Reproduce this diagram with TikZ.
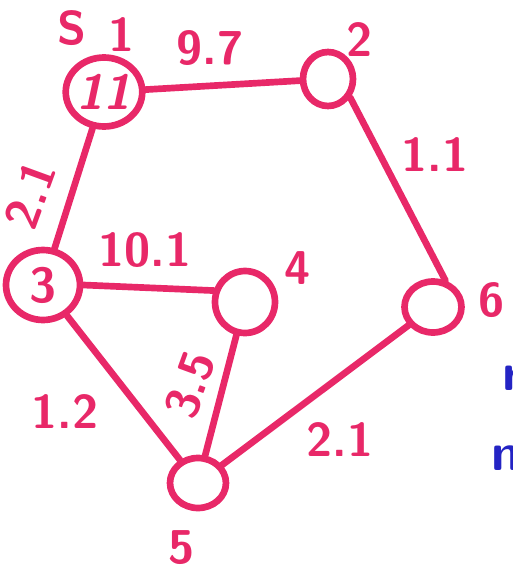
\documentclass[tikz,border=0pt]{standalone}
\usepackage{xcolor}
\usetikzlibrary{shapes.geometric}
\definecolor{penpink}{RGB}{232,40,104}
\definecolor{penblue}{RGB}{36,36,196}

\begin{document}
\begin{tikzpicture}[x=0.02cm,y=-0.02cm,
  vtx/.style={ellipse,draw=penpink,line width=3.8pt,inner sep=0pt,text=penpink,
    font=\sffamily\bfseries\fontsize{28}{28}\selectfont},
  wt/.style={text=penpink,inner sep=0pt,font=\sffamily\bfseries\fontsize{27}{27}\selectfont},
  note/.style={text=penblue,inner sep=0pt,font=\sffamily\bfseries\fontsize{30}{30}\selectfont},
  edge/.style={draw=penpink,line width=3.8pt,line cap=round}]
  \useasboundingbox (0,0) rectangle (513,575);
  % vertices
  \node[vtx,minimum width=1.42cm,minimum height=1.38cm] (v1) at (104,92) {\textit{11}};
  \node[vtx,minimum width=1.0cm,minimum height=1.08cm] (v2) at (328,79) {};
  \node[vtx,minimum width=1.48cm,minimum height=1.4cm] (v3) at (43,285) {3};
  \node[vtx,minimum width=1.2cm,minimum height=1.24cm] (v4) at (245,302) {};
  \node[vtx,minimum width=1.12cm,minimum height=1.0cm] (v5) at (198,483) {};
  \node[vtx,minimum width=1.14cm,minimum height=1.02cm] (v6) at (433,307) {};
  % vertex labels
  \node[wt] (s) at (72,28) {S};
  \node[wt] (l1) at (122,35) {1};
  \node[wt] (l2) at (360,40) {2};
  \node[wt] (l4) at (298,268) {4};
  \node[wt] (l5) at (182,548) {5};
  \node[wt] (l6) at (492,300) {6};
  % edges
  \draw[edge] (v1) -- (v2);
  \draw[edge] (v1) -- (v3);
  \draw[edge] (v3.east) -- (v4.160);
  \draw[edge] (v3) -- (v5);
  \draw[edge] (v4) -- (v5);
  \draw[edge] (v2.-40) -- (v6.65);
  \draw[edge] (v5) -- (v6);
  % weights
  \node[wt,rotate=70] (w13) at (30,195) {2.1};
  \node[wt] (w12) at (210,48) {9.7};
  \node[wt] (w34) at (145,250) {10.1};
  \node[wt] (w35) at (65,412) {1.2};
  \node[wt,rotate=70] (w45) at (190,385) {3.5};
  \node[wt] (w26) at (435,155) {1.1};
  \node[wt] (w56) at (340,440) {2.1};
  % notes cut off at the edge
  \node[note] (r) at (512,378) {r};
  \node[note] (m) at (514,458) {m};
\end{tikzpicture}
\end{document}
